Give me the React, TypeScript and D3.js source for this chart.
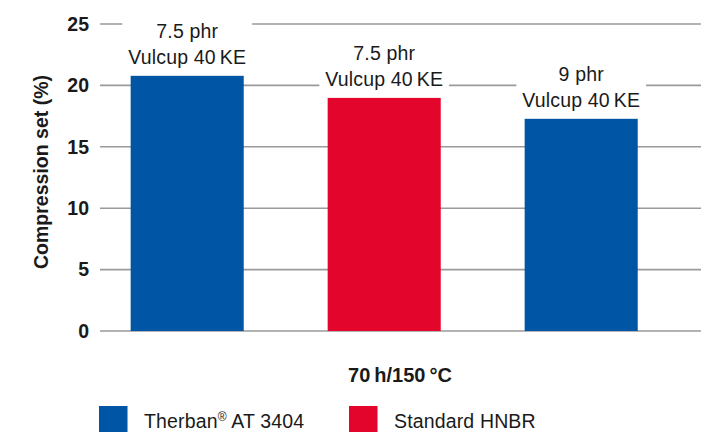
import React, { useEffect, useRef } from "react";
import * as d3 from "d3";

const categories = ["Therban 7.5 phr", "Standard 7.5 phr", "Therban 9 phr"];
const values = [20.8, 19.0, 17.3];
const seriesOf = ["Therban® AT 3404", "Standard HNBR", "Therban® AT 3404"];
const labelLine1 = ["7.5 phr", "7.5 phr", "9 phr"];
const labelLine2 = ["Vulcup 40\u2009KE", "Vulcup 40\u2009KE", "Vulcup 40\u2009KE"];
const yTicks = [0, 5, 10, 15, 20, 25];
const legendItems = ["Therban® AT 3404", "Standard HNBR"];
const colors = ["#0055A4", "#E3052B"];
const yTitle = "Compression set (%)";
const xTitle = "70\u2009h/150\u2009°C";

const W = 706;
const H = 432;
const FONT = "'Liberation Sans', Arial, Helvetica, sans-serif";
const LS = 0.15;

export default function App() {
  const ref = useRef<SVGSVGElement>(null);

  useEffect(() => {
    const svg = d3.select(ref.current);
    svg.selectAll("*").remove();

    const y = d3.scaleLinear().domain([0, 25]).range([331, 24]);
    const x = d3
      .scaleBand<string>()
      .domain(categories)
      .range([88.7, 679.7])
      .paddingInner(0.426)
      .paddingOuter(0.213);
    const color = d3.scaleOrdinal<string, string>().domain(legendItems).range(colors);

    // gridlines
    svg
      .append("g")
      .selectAll("line")
      .data(yTicks)
      .join("line")
      .attr("x1", 100)
      .attr("x2", 701)
      .attr("y1", (d) => y(d))
      .attr("y2", (d) => y(d))
      .attr("stroke", "#9a9a9a")
      .attr("stroke-width", 1.6);

    // y tick labels
    svg
      .append("g")
      .selectAll("text")
      .data(yTicks)
      .join("text")
      .attr("x", 89)
      .attr("y", (d) => y(d))
      .attr("dy", "0.35em")
      .attr("text-anchor", "end")
      .attr("font-family", FONT)
      .attr("font-weight", "bold")
      .attr("font-size", 19.5)
      .attr("fill", "#1a1a1a")
      .text((d) => String(d));

    // bars
    svg
      .append("g")
      .selectAll("rect")
      .data(values)
      .join("rect")
      .attr("x", (_, i) => x(categories[i])!)
      .attr("width", x.bandwidth())
      .attr("y", (d) => y(d))
      .attr("height", (d) => y(0) - y(d))
      .attr("fill", (_, i) => color(seriesOf[i]));

    // labels with white backgrounds
    const lg = svg.append("g");
    values.forEach((v, i) => {
      const cx = x(categories[i])! + x.bandwidth() / 2;
      const b2 = y(v) - 12;
      const b1 = b2 - 26;
      const g = lg.append("g");
      const bg = g.append("rect").attr("fill", "#fff");
      const t1 = g
        .append("text")
        .attr("x", cx)
        .attr("y", b1)
        .attr("text-anchor", "middle")
        .attr("font-family", FONT)
        .attr("font-size", 19.5)
        .attr("letter-spacing", LS)
        .attr("fill", "#1a1a1a")
        .text(labelLine1[i]);
      const t2 = g
        .append("text")
        .attr("x", cx)
        .attr("y", b2)
        .attr("text-anchor", "middle")
        .attr("font-family", FONT)
        .attr("font-size", 19.5)
        .attr("letter-spacing", LS)
        .attr("fill", "#1a1a1a")
        .text(labelLine2[i]);
      const w = Math.max(
        (t1.node() as SVGTextElement).getComputedTextLength(),
        (t2.node() as SVGTextElement).getComputedTextLength()
      );
      bg.attr("x", cx - w / 2 - 6)
        .attr("width", w + 12)
        .attr("y", b1 - 19)
        .attr("height", y(v) - (b1 - 19));
    });

    // y title
    svg
      .append("text")
      .attr("transform", `translate(48,172) rotate(-90)`)
      .attr("text-anchor", "middle")
      .attr("font-family", FONT)
      .attr("font-weight", "bold")
      .attr("font-size", 19.5)
      .attr("fill", "#1a1a1a")
      .text(yTitle);

    // x title
    svg
      .append("text")
      .attr("x", 400)
      .attr("y", 381.5)
      .attr("text-anchor", "middle")
      .attr("font-family", FONT)
      .attr("font-weight", "bold")
      .attr("font-size", 20)
      .attr("fill", "#1a1a1a")
      .text(xTitle);

    // legend
    const legX = [99, 349];
    legendItems.forEach((name, i) => {
      const g = svg.append("g");
      g.append("rect")
        .attr("x", legX[i])
        .attr("y", 406)
        .attr("width", 28.5)
        .attr("height", 28)
        .attr("fill", color(name));
      const t = g
        .append("text")
        .attr("x", legX[i] + 45)
        .attr("y", 428)
        .attr("font-family", FONT)
        .attr("font-size", 19.5)
        .attr("letter-spacing", LS)
        .attr("fill", "#1a1a1a");
      if (name.includes("®")) {
        const [a, b] = name.split("®");
        t.append("tspan").text(a);
        t.append("tspan").attr("font-size", 12).attr("dy", -7).text("®");
        t.append("tspan").attr("dy", 7).text(b);
      } else {
        t.text(name);
      }
    });
  }, []);

  return (
    <>
      <style>{`body{margin:0}`}</style>
      <svg ref={ref} width={W} height={H} style={{ display: "block", background: "#fff" }} />
    </>
  );
}
